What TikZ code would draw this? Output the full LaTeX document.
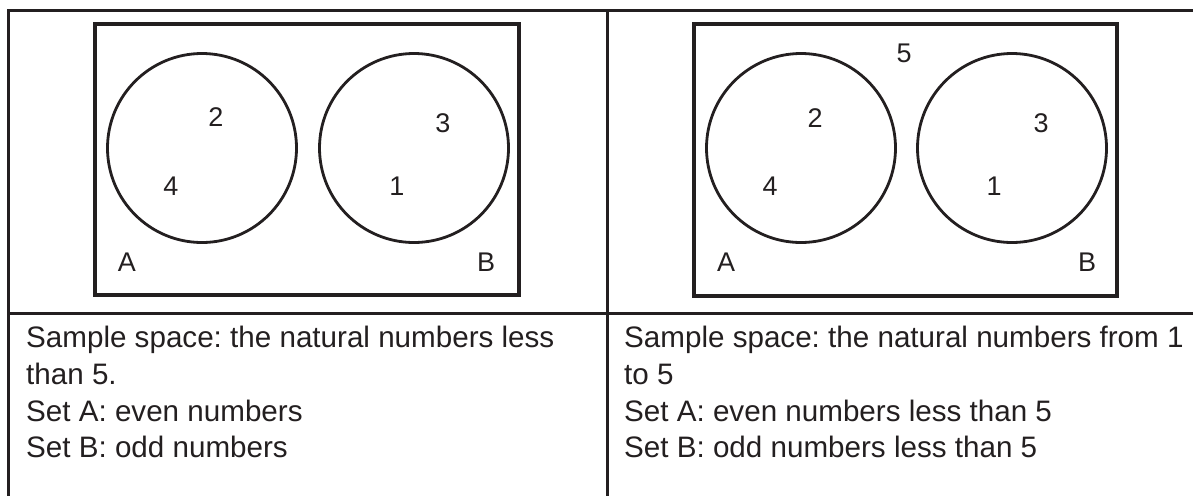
\documentclass[tikz,border=0pt]{standalone}
\usepackage{fontspec}
\setmainfont{Liberation Sans}
\definecolor{ink}{HTML}{231F20}
\frenchspacing
\begin{document}
\begin{tikzpicture}[x=1pt,y=-1pt,
  rule/.style={draw=ink,line width=3pt},
  frame/.style={draw=ink,line width=3.2pt},
  setc/.style={draw=ink,line width=2.8pt},
  lbl/.style={inner sep=0pt,text=ink,font=\fontsize{27}{32}\selectfont},
  txt/.style={inner sep=0pt,anchor=base west,text=ink,font=\fontsize{29.6}{37}\selectfont}]
\useasboundingbox (0,0) rectangle (1193,496);
% table rules
\coordinate (tl) at (8,10);
\coordinate (tr) at (1193,10);
\coordinate (tm) at (607,10);
\coordinate (bl) at (8,496);
\coordinate (bm) at (607,496);
\coordinate (ml) at (8,313);
\coordinate (mr) at (1193,313);
\draw[rule] (tr) -- (tl) -- (bl);
\draw[rule] (tm) -- (bm);
\draw[rule] (ml) -- (mr);
% left panel
\draw[frame] (95,24) rectangle (519,295);
\draw[setc] (202,148) circle (94.5);
\draw[setc] (414,148) circle (94.5);
\node[lbl] (l2) at (216,117) {2};
\node[lbl] (l4) at (171,186) {4};
\node[lbl] (lA) at (127,262) {A};
\node[lbl] (l3) at (443,123) {3};
\node[lbl] (l1) at (397,186) {1};
\node[lbl] (lB) at (486,262) {B};
% right panel
\draw[frame] (694,24) rectangle (1117,296);
\draw[setc] (801,148) circle (94.5);
\draw[setc] (1012,148) circle (94.5);
\node[lbl] (r5) at (904,53) {5};
\node[lbl] (r2) at (815,118) {2};
\node[lbl] (r4) at (770,186) {4};
\node[lbl] (rA) at (726,262) {A};
\node[lbl] (r3) at (1041,123) {3};
\node[lbl] (r1) at (994,186) {1};
\node[lbl] (rB) at (1087,262) {B};
% text
\node[txt] (t1) at (26,347) {Sample space: the natural numbers less};
\node[txt] (t2) at (26,384) {than 5.};
\node[txt] (t3) at (26,421) {Set A: even numbers};
\node[txt] (t4) at (26,457) {Set B: odd numbers};
\node[txt] (u1) at (624,347) {Sample space: the natural numbers from 1};
\node[txt] (u2) at (624,384) {to 5};
\node[txt] (u3) at (624,421) {Set A: even numbers less than 5};
\node[txt] (u4) at (624,457) {Set B: odd numbers less than 5};
\end{tikzpicture}
\end{document}
